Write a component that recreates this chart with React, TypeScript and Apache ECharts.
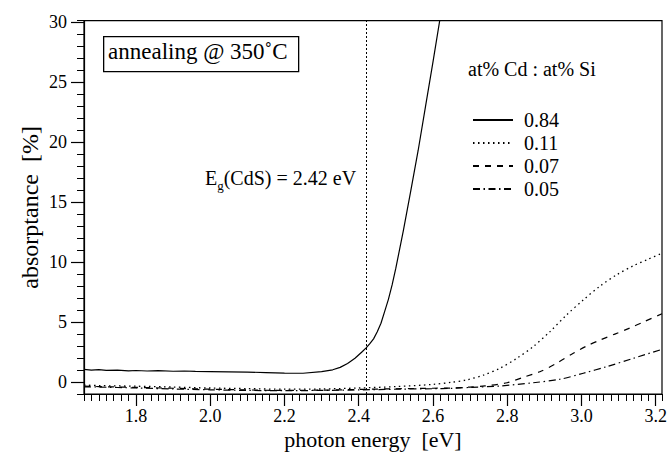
import React, { useEffect, useRef } from "react";
import * as echarts from "echarts";

const FONT = "'Liberation Serif', 'Times New Roman', serif";

const seriesNames = ["0.84", "0.11", "0.07", "0.05"];

const energyA = [1.66, 1.68, 1.70, 1.72, 1.75, 1.78, 1.80, 1.83, 1.86, 1.90, 1.93, 1.96, 2.00, 2.05, 2.10, 2.15, 2.20, 2.25, 2.30, 2.33, 2.35, 2.37, 2.39, 2.41, 2.42, 2.43, 2.44, 2.45, 2.46, 2.47, 2.48, 2.49, 2.50, 2.52, 2.54, 2.56, 2.58, 2.60, 2.62, 2.63];
const absA = [1.05, 1.0, 1.03, 0.97, 0.99, 0.93, 0.96, 0.92, 0.95, 0.9, 0.92, 0.88, 0.87, 0.85, 0.83, 0.79, 0.75, 0.73, 0.86, 1.02, 1.22, 1.55, 1.98, 2.55, 2.85, 3.2, 3.6, 4.2, 4.9, 5.9, 6.9, 8.1, 9.5, 12.6, 15.9, 19.3, 23.0, 26.7, 30.5, 32.4];

const energyB = [1.66, 1.7, 1.8, 1.9, 2.0, 2.1, 2.2, 2.3, 2.4, 2.5, 2.6, 2.65, 2.69, 2.736, 2.78, 2.826, 2.87, 2.915, 2.96, 3.005, 3.05, 3.095, 3.14, 3.18, 3.217];
const absB = [-0.25, -0.3, -0.35, -0.42, -0.5, -0.55, -0.6, -0.58, -0.5, -0.38, -0.2, -0.02, 0.17, 0.58, 1.14, 1.98, 2.95, 4.2, 5.6, 6.85, 8.0, 8.95, 9.7, 10.25, 10.75];

const energyC = [1.66, 1.7, 1.8, 1.9, 2.0, 2.1, 2.2, 2.3, 2.4, 2.5, 2.6, 2.65, 2.7, 2.74, 2.8, 2.843, 2.888, 2.933, 2.978, 3.014, 3.05, 3.09, 3.13, 3.17, 3.217];
const absC = [-0.35, -0.38, -0.45, -0.52, -0.6, -0.66, -0.7, -0.68, -0.62, -0.56, -0.52, -0.5, -0.42, -0.33, -0.06, 0.39, 0.86, 1.56, 2.4, 3.0, 3.5, 4.0, 4.5, 5.05, 5.7];

const energyD = [1.66, 1.7, 1.8, 1.9, 2.0, 2.1, 2.2, 2.3, 2.4, 2.5, 2.6, 2.646, 2.7, 2.78, 2.87, 2.942, 3.005, 3.068, 3.14, 3.217];
const absD = [-0.4, -0.42, -0.5, -0.58, -0.65, -0.7, -0.72, -0.7, -0.66, -0.6, -0.56, -0.53, -0.45, -0.33, -0.06, 0.23, 0.73, 1.28, 1.98, 2.73];

const xMajorTicks = [1.8, 2.0, 2.2, 2.4, 2.6, 2.8, 3.0, 3.2];
const yMajorTicks = [0, 5, 10, 15, 20, 25, 30];
const bandGap = 2.42;

const pairs = (xs: number[], ys: number[]) => xs.map((x, i) => [x, ys[i]]);

export default function App() {
  const ref = useRef<HTMLDivElement>(null);
  useEffect(() => {
    if (!ref.current) return;
    const chart = echarts.init(ref.current, null, { renderer: "svg" });
    const xMin = 1.66, xMax = 3.217, yMin = -1, yMax = 30.15;
    const lineStyles: any[] = [
      { type: "solid", width: 1.2 },
      { type: [1.5, 3.5], width: 1.3 },
      { type: [6, 6], width: 1.2 },
      { type: [7, 3.5, 1.5, 3.5], width: 1.2 },
    ];
    const dataSets = [pairs(energyA, absA), pairs(energyB, absB), pairs(energyC, absC), pairs(energyD, absD)];
    chart.setOption({
      animation: false,
      backgroundColor: "#fff",
      textStyle: { fontFamily: FONT, color: "#000" },
      grid: { left: 84, right: 8, top: 20.7, bottom: 59, outerBoundsMode: "none", containLabel: false, show: true, borderColor: "#000", borderWidth: 1.2, backgroundColor: "transparent" },
      legend: {
        orient: "vertical",
        left: 467,
        top: 105,
        itemWidth: 40,
        itemHeight: 14,
        itemGap: 3,
        data: seriesNames,
        itemStyle: { opacity: 0 },
        textStyle: { fontFamily: FONT, fontSize: 20, lineHeight: 20, color: "#000", padding: [0, 0, 0, 6] },
      },
      xAxis: [
        {
          type: "value", min: xMin, max: xMax, position: "bottom",
          axisLine: { show: true, onZero: false, lineStyle: { color: "#000", width: 1.2 } },
          axisTick: { show: true, length: 12, lineStyle: { color: "#000", width: 1.2 }, customValues: xMajorTicks },
          axisLabel: { customValues: xMajorTicks, formatter: (v: number) => v.toFixed(1), fontFamily: FONT, fontSize: 18, lineHeight: 18, color: "#000", margin: 13 },
          splitLine: { show: false },
          name: "photon energy  [eV]", nameLocation: "middle", nameGap: 34, nameMoveOverlap: false,
          nameTextStyle: { fontFamily: FONT, fontSize: 22, color: "#000", lineHeight: 22 },
        },
        {
          type: "value", min: xMin, max: xMax, interval: 0.02, position: "bottom", gridIndex: 0,
          axisLine: { show: false, onZero: false },
          axisTick: { show: true, length: 7, lineStyle: { color: "#000", width: 1 } },
          axisLabel: { show: false },
          splitLine: { show: false },
        },
      ],
      yAxis: [
        {
          type: "value", min: yMin, max: yMax, position: "left",
          axisLine: { show: true, onZero: false, lineStyle: { color: "#000", width: 1.2 } },
          axisTick: { show: true, length: 13, lineStyle: { color: "#000", width: 1.2 }, customValues: yMajorTicks },
          axisLabel: { customValues: yMajorTicks, fontFamily: FONT, fontSize: 18, color: "#000", margin: 17 },
          splitLine: { show: false },
          name: "absorptance  [%]", nameLocation: "middle", nameGap: 42, nameMoveOverlap: false,
          nameTextStyle: { fontFamily: FONT, fontSize: 24, color: "#000" },
        },
        {
          type: "value", min: yMin, max: yMax, interval: 1, position: "left",
          axisLine: { show: false, onZero: false },
          axisTick: { show: true, length: 7, lineStyle: { color: "#000", width: 1 } },
          axisLabel: { show: false },
          splitLine: { show: false },
        },
      ],
      series: seriesNames.map((name, i) => ({
        name,
        type: "line",
        data: dataSets[i],
        showSymbol: false,
        symbol: "none",
        smooth: i === 0 ? false : 0.3,
        clip: true,
        lineStyle: { color: "#000", ...lineStyles[i] },
        itemStyle: { color: "#000" },
        markLine: i === 0 ? {
          silent: true, symbol: "none", label: { show: false },
          lineStyle: { type: [2, 2], color: "#000", width: 1 },
          data: [{ xAxis: bandGap }],
        } : undefined,
      })),
      graphic: [
        { type: "rect", left: 103, top: 36, shape: { width: 195, height: 35 }, style: { fill: "#fff", stroke: "#000", lineWidth: 1.3 }, z: 10 },
        { type: "text", left: 108, top: 40, style: { text: "annealing @ 350˚C", font: `23px ${FONT}`, fill: "#000" }, z: 11 },
        { type: "text", left: 468, top: 59, style: { text: "at% Cd : at% Si", font: `20px ${FONT}`, fill: "#000" }, z: 11 },
        {
          type: "text", left: 205, top: 167,
          style: {
            text: "{e|E}{s|g}{e|(CdS) = 2.42 eV}",
            rich: {
              e: { fontFamily: FONT, fontSize: 20, fill: "#000", verticalAlign: "top", lineHeight: 23 },
              s: { fontFamily: FONT, fontSize: 13, fill: "#000", padding: [12, 0, 0, 0], lineHeight: 23 },
            },
          },
          z: 11,
        },
      ],
    });
    return () => chart.dispose();
  }, []);
  return <div ref={ref} style={{ position: "fixed", left: 0, top: 0, width: 670, height: 453 }} />;
}
